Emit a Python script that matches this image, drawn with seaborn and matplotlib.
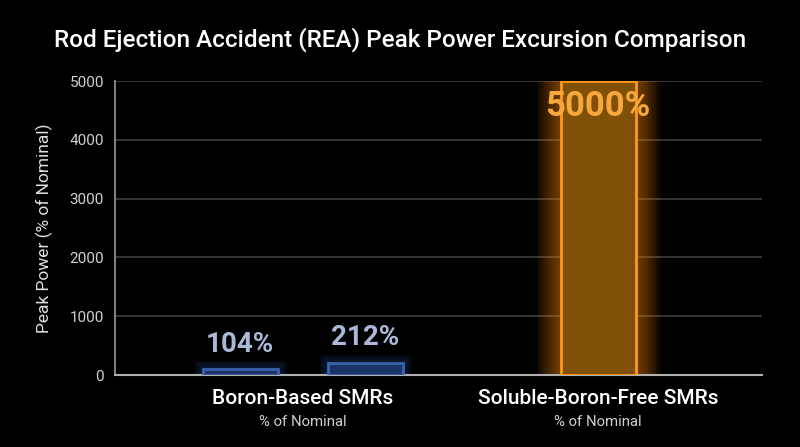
import matplotlib
matplotlib.use("Agg")
import matplotlib.pyplot as plt
import seaborn as sns
import numpy as np

categories = ["Boron-Based SMRs", "Soluble-Boron-Free SMRs"]
sub_labels = ["% of Nominal", "% of Nominal"]
group_values = [[104, 212], [5000]]
value_labels = [["104%", "212%"], ["5000%"]]
y_ticks = [0, 1000, 2000, 3000, 4000, 5000]

sns.set_theme(style="dark")
plt.rcParams['font.family'] = ['Roboto', 'DejaVu Sans']

fig = plt.figure(figsize=(8, 4.47), dpi=100, facecolor="black")
ax = fig.add_axes([0.144, 0.161, 0.8085, 0.6577])
ax.set_facecolor("black")

bar_w = 0.254
offset = 0.2115
styles = [
    dict(face="#1c3466", edge="#3a64ad", glow="#3a6ad0", text="#a9b9d6", size=20, nglow=5, gw=2.5),
    dict(face="#805008", edge="#ff9a1c", glow="#ff8c00", text="#f7a83a", size=25, nglow=10, gw=3.5),
]

for gi, (vals, labs) in enumerate(zip(group_values, value_labels)):
    n = len(vals)
    xs = gi + (np.arange(n) - (n - 1) / 2) * 2 * offset
    st = styles[gi]
    for k in range(st["nglow"], 0, -1):
        ax.bar(xs, vals, width=bar_w, facecolor="none", edgecolor=st["glow"],
               linewidth=k * st["gw"], alpha=0.06, zorder=2)
    ax.bar(xs, vals, width=bar_w, facecolor=st["face"], edgecolor="none", zorder=3)
    ax.bar(xs, vals, width=bar_w, facecolor="none", edgecolor=st["edge"],
           linewidth=2, zorder=4)
    for x, v, lab in zip(xs, vals, labs):
        if v > 2500:
            ax.annotate(lab, (x, v), xytext=(0, -18), textcoords="offset points",
                        ha="center", va="center", color=st["text"],
                        fontsize=st["size"], fontweight="bold", zorder=6)
        else:
            ax.annotate(lab, (x, v), xytext=(0, 8), textcoords="offset points",
                        ha="center", va="bottom", color=st["text"],
                        fontsize=st["size"], fontweight="bold", zorder=6)

ax.set_xlim(-0.6345, 1.555)
ax.set_ylim(0, 5000)
ax.set_yticks(y_ticks)
ax.set_yticklabels([str(t) for t in y_ticks], color="#d0d0d0", fontsize=11)
ax.yaxis.grid(True, color="#3e3e3e", linewidth=1.2)
ax.xaxis.grid(False)
ax.set_axisbelow(True)
ax.set_xticks(range(len(categories)))
ax.set_xticklabels([])
ax.tick_params(axis="both", length=0, pad=8)
for i, (c, s) in enumerate(zip(categories, sub_labels)):
    ax.annotate(c, (i, 0), xycoords=("data", "axes fraction"), xytext=(0, -10),
                textcoords="offset points", ha="center", va="top",
                color="white", fontsize=15, fontweight="medium")
    ax.annotate(s, (i, 0), xycoords=("data", "axes fraction"), xytext=(0, -29),
                textcoords="offset points", ha="center", va="top",
                color="#d0d0d0", fontsize=10.7)

for side in ["top", "right"]:
    ax.spines[side].set_visible(False)
ax.spines["left"].set_color("#9a9a9a")
ax.spines["bottom"].set_color("#b0b0b0")
ax.spines["left"].set_linewidth(1.2)
ax.spines["bottom"].set_linewidth(1.5)

ax.set_ylabel("Peak Power (% of Nominal)", color="#e0e0e0", fontsize=12.5, labelpad=12)
fig.suptitle("Rod Ejection Accident (REA) Peak Power Excursion Comparison",
             color="white", fontsize=17.5, fontweight="medium", y=0.94, x=0.5)

fig.savefig("out.png", dpi=100, facecolor="black")
